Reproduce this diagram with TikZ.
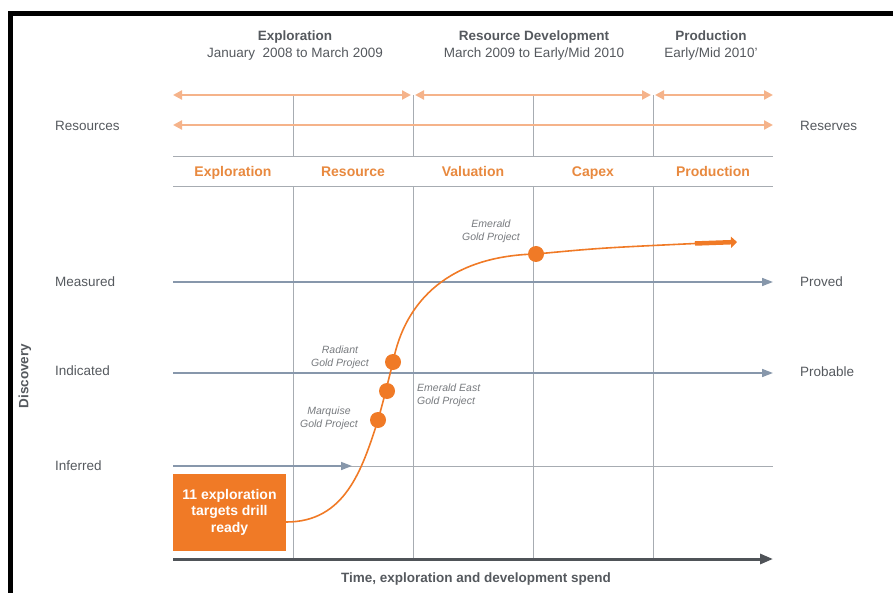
\documentclass[tikz,border=0pt]{standalone}
\usepackage{fontspec}
\setmainfont{Liberation Sans}
\usetikzlibrary{
  arrows.meta,
  calc,
  positioning,
}
\definecolor{ore}{HTML}{F07A26}
\definecolor{orelight}{HTML}{F5B38A}
\definecolor{oretext}{HTML}{E8893F}
\definecolor{gridgray}{HTML}{A7ACB2}
\definecolor{axisblue}{HTML}{8797AB}
\definecolor{axisdark}{HTML}{4F5358}
\definecolor{txtgray}{HTML}{55595E}

\begin{document}
\begin{tikzpicture}[x=1pt,y=-1pt,
    hdr/.style={font=\fontsize{13.5}{17}\selectfont,text=txtgray,align=center},
    lvl/.style={font=\fontsize{13.5}{16}\selectfont,text=txtgray,anchor=west,inner sep=0pt},
    stage/.style={font=\bfseries\fontsize{14}{16}\selectfont,text=oretext,anchor=base},
    phase/.style={orelight,line width=2.8pt,{Triangle[length=9pt,width=9pt]}-{Triangle[length=9pt,width=9pt]}},
    gridline/.style={gridgray,line width=0.9pt},
    level/.style={axisblue,line width=1.6pt,-{Triangle[length=11pt,width=8pt]}},
    proj/.style={circle,fill=ore,minimum size=16pt,inner sep=0pt},
    projlbl/.style={font=\itshape\fontsize{10.5}{13}\selectfont,text=txtgray!80,align=center,inner sep=0pt},
    targetbox/.style={fill=ore,text=white,font=\bfseries\fontsize{14}{16.5}\selectfont,align=center,minimum width=113pt,minimum height=77pt,inner sep=0pt},
  ]
  \useasboundingbox (0,0) rectangle (893,593);
  \fill[black] (8,11) rectangle (893,16);
  \fill[black] (8,11) rectangle (13,593);

  \node[hdr] (hexp) at (295,46) {\textbf{Exploration}\\January\ \ 2008 to March 2009};
  \node[hdr] (hdev) at (534,46) {\textbf{Resource Development}\\March 2009 to Early/Mid 2010};
  \node[hdr] (hprod) at (711,46) {\textbf{Production}\\Early/Mid 2010'};

  \foreach \r/\y in {top/95,res/125,hi/156,lo/186,meas/282,ind/373,inf/466,time/559}{
      \coordinate (l\r) at (173,\y);
      \coordinate (r\r) at (773,\y);
    }
  \foreach \c/\x in {1/293,2/413,3/533,4/653}{
      \coordinate (v\c a) at (\x,95);
      \coordinate (v\c b) at (\x,156);
      \coordinate (v\c c) at (\x,186);
      \coordinate (v\c d) at (\x,559);
      \draw[gridline] (v\c a) -- (v\c b) (v\c c) -- (v\c d);
    }
  \draw[gridline] (lhi) -- (rhi);
  \draw[gridline] (llo) -- (rlo);
  \draw[gridline] (linf) -- (rinf);

  \draw[phase] (ltop) -- ($(v2a)+(-2,0)$);
  \draw[phase] ($(v2a)+(2,0)$) -- ($(v4a)+(-2,0)$);
  \draw[phase] ($(v4a)+(2,0)$) -- (rtop);
  \draw[phase] (lres) -- (rres);

  \foreach \t [count=\i] in {Exploration,Resource,Valuation,Capex,Production}{
      \node[stage] (s\i) at ({113+120*\i},177) {\t};
    }

  \draw[level] (lmeas) -- (rmeas);
  \draw[level] (lind) -- (rind);
  \coordinate (infend) at (352,466);
  \draw[level] (linf) -- (infend);
  \draw[axisdark,line width=3pt,-{Triangle[length=13pt,width=10pt]}] (ltime) -- (rtime);

  \node[lvl] (tres) at (55,126) {Resources};
  \node[lvl] (tmeas) at (55,282) {Measured};
  \node[lvl] (tind) at (55,371) {Indicated};
  \node[lvl] (tinf) at (55,466) {Inferred};
  \node[lvl] (trsv) at (800,126) {Reserves};
  \node[lvl] (tprov) at (800,282) {Proved};
  \node[lvl] (tprob) at (800,372) {Probable};
  \node[font=\bfseries\fontsize{13.5}{16}\selectfont,text=txtgray,rotate=90] (disc) at (25,376) {Discovery};
  \node[font=\bfseries\fontsize{13.5}{16}\selectfont,text=txtgray] (spend) at (476,579) {Time, exploration and development spend};

  \node[targetbox] (tgt) at (229.5,512) {11 exploration\\targets drill\\ready};

  \coordinate (marq) at (378,420);
  \coordinate (emeast) at (387,391);
  \coordinate (rad) at (393,362);
  \coordinate (emer) at (536,254);
  \coordinate (hd) at (695,243.5);
  \coordinate (tip) at (737,242);
  \draw[ore,line width=1.6pt] ($(tgt.east)+(0,10)$) .. controls (345,522) and (362,470) .. (marq)
    .. controls (383,402) .. (rad)
    .. controls (405,300) and (450,256) .. (emer)
    .. controls (600,248) .. (hd);
  \draw[ore,line width=4.5pt,-{Triangle[length=6pt,width=11pt]}] (hd) -- (tip);

  \node[proj] (pmarq) at (marq) {};
  \node[proj] (pemeast) at (emeast) {};
  \node[proj] (prad) at (rad) {};
  \node[proj] (pemer) at (emer) {};

  \node[projlbl] (lmarq) at (329,418) {Marquise\\Gold Project};
  \node[projlbl,align=left,anchor=west] (lemeast) at (417,395) {Emerald East\\Gold Project};
  \node[projlbl] (lrad) at (340,357) {Radiant\\Gold Project};
  \node[projlbl] (lemer) at (491,231) {Emerald\\Gold Project};
\end{tikzpicture}
\end{document}
